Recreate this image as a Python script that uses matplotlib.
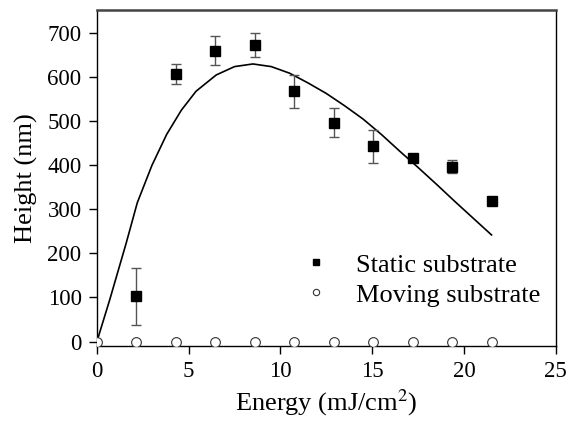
import matplotlib.pyplot as plt

plt.rcParams['font.family'] = ['Liberation Serif', 'DejaVu Serif']
plt.rcParams['mathtext.fontset'] = 'stix'

# data
energy = [0, 2.15, 4.3, 6.45, 8.6, 10.75, 12.9, 15.05, 17.2, 19.35, 21.5]
static_h = [103, 607, 660, 673, 568, 497, 443, 417, 397, 320]
static_err = [65, 23, 33, 28, 37, 32, 37, 6, 15, 6]
moving_h = [0, 0, 0, 0, 0, 0, 0, 0, 0, 0, 0]

# fitted curve
fit_x = [0, 0.7, 1.6, 2.2, 3.0, 3.8, 4.6, 5.4, 6.5, 7.5, 8.5, 9.5, 10.5,
         11.5, 12.5, 13.5, 14.5, 15.5, 16.5, 17.5, 18.5, 19.5, 20.5, 21.5]
fit_y = [0, 95, 224, 315, 400, 470, 525, 568, 605, 624, 630, 624, 609,
         587, 563, 535, 505, 470, 432, 395, 357, 318, 280, 242]

fig = plt.figure(figsize=(5.7, 4.25), dpi=100)
ax = fig.add_axes([0.170, 0.186, 0.805, 0.790])

ax.plot(fit_x, fit_y, color='black', linewidth=1.2, zorder=2)
ax.errorbar(energy[1:], static_h, yerr=static_err, fmt='none', ecolor='#555555',
            elinewidth=1, capsize=3.5, capthick=1, zorder=3)
ax.plot(energy[1:], static_h, linestyle='none', marker='s', markersize=7,
        color='black', label='Static substrate', zorder=4)
ax.plot(energy, moving_h, linestyle='none', marker='o', markersize=7,
        markerfacecolor='white', markeredgecolor='#333333', markeredgewidth=0.8,
        label='Moving substrate', zorder=4)

ax.set_xlim(0, 25)
ax.set_ylim(-10, 752)
ax.set_xticks([0, 5, 10, 15, 20, 25])
ax.set_yticks([0, 100, 200, 300, 400, 500, 600, 700])
ax.tick_params(direction='out', length=6, width=1, labelsize=16.5, pad=5,
               top=False, right=False)
ax.set_xlabel('Energy (mJ/cm$^2$)', fontsize=19, labelpad=4)
ax.set_ylabel('Height (nm)', fontsize=19, labelpad=7)
for s in ax.spines.values():
    s.set_linewidth(1.0)
ax.spines['top'].set_linewidth(1.8)
ax.spines['top'].set_color('#444444')

ax.legend(loc='lower right', bbox_to_anchor=(1.0, 0.07), frameon=False,
          fontsize=19, markerscale=0.65, handlelength=1.0, handletextpad=1.0,
          labelspacing=0.25, borderaxespad=0.2)

fig.savefig('out.png', dpi=100)
